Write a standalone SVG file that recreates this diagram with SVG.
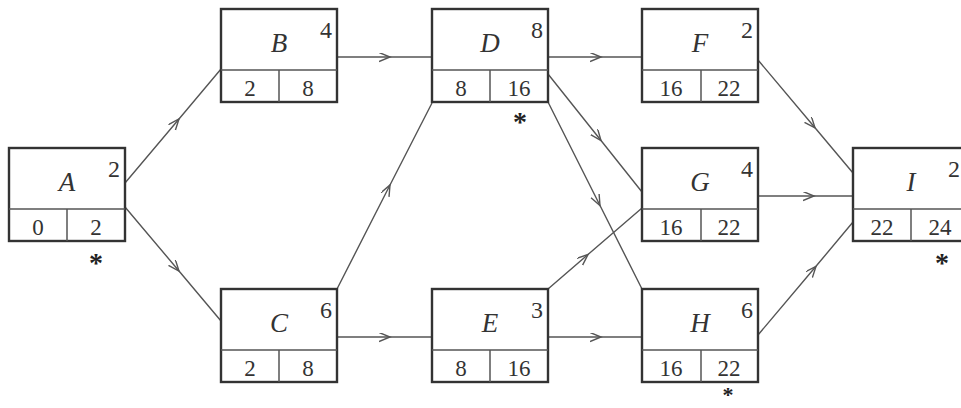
<svg xmlns="http://www.w3.org/2000/svg" width="961" height="408" viewBox="0 0 961 408">
<style>
.box{fill:#fff;stroke:#333;stroke-width:2.4}
.div{stroke:#555;stroke-width:1.5;fill:none}
.lt{font-family:"Liberation Serif","Times New Roman",serif;font-style:italic;font-size:27px;fill:#333;text-anchor:middle}
.du{font-family:"Liberation Serif","Times New Roman",serif;font-size:24px;fill:#333;text-anchor:end}
.nm{font-family:"Liberation Serif","Times New Roman",serif;font-size:23px;fill:#333;text-anchor:middle}
.st{font-family:"Liberation Serif","Times New Roman",serif;font-weight:bold;font-size:28px;fill:#222;text-anchor:middle}
.cn{fill:none;stroke:#555;stroke-width:1.4;marker-mid:url(#ah)}
</style>
<defs>
<marker id="ah" markerUnits="userSpaceOnUse" markerWidth="14" markerHeight="12" refX="11" refY="4.5" orient="auto">
<path d="M0,0 L11,4.5 L0,9" fill="none" stroke="#555" stroke-width="1.4"/>
</marker>
</defs>
<rect width="961" height="408" fill="#fff"/>
<g id="connectors">
<path class="cn" d="M125,183 L179,119 L221,69"/>
<path class="cn" d="M125,207 L179,271 L221,321"/>
<path class="cn" d="M337,57 L390,57 L432,57"/>
<path class="cn" d="M337,289 L390,185 L432,103"/>
<path class="cn" d="M337,337 L390,337 L432,337"/>
<path class="cn" d="M548,57 L601,57 L642,57"/>
<path class="cn" d="M548,74 L601,140.5 L642,192"/>
<path class="cn" d="M548,102 L600,205.5 L642,289"/>
<path class="cn" d="M548,289 L588,254.5 L642,208"/>
<path class="cn" d="M548,337 L601,337 L642,337"/>
<path class="cn" d="M758,60 L815,127.8 L853,173"/>
<path class="cn" d="M758,196 L814,196 L853,196"/>
<path class="cn" d="M758,335 L816,266.3 L853,222"/>
</g>
<g id="A">
<rect class="box" x="9" y="148" width="116" height="93"/>
<path class="div" d="M9,209 H125 M67,209 V241"/>
<text class="lt" x="67" y="191">A</text><text class="du" x="120" y="177">2</text>
<text class="nm" x="38" y="235">0</text><text class="nm" x="96" y="235">2</text>
<text class="st" x="96" y="272">*</text>
</g>
<g id="B">
<rect class="box" x="221" y="9" width="116" height="93"/>
<path class="div" d="M221,70 H337 M279,70 V102"/>
<text class="lt" x="279" y="52">B</text><text class="du" x="332" y="38">4</text>
<text class="nm" x="250" y="96">2</text><text class="nm" x="308" y="96">8</text>
</g>
<g id="C">
<rect class="box" x="221" y="289" width="116" height="93"/>
<path class="div" d="M221,350 H337 M279,350 V382"/>
<text class="lt" x="279" y="332">C</text><text class="du" x="332" y="318">6</text>
<text class="nm" x="250" y="376">2</text><text class="nm" x="308" y="376">8</text>
</g>
<g id="D">
<rect class="box" x="432" y="9" width="116" height="93"/>
<path class="div" d="M432,70 H548 M490,70 V102"/>
<text class="lt" x="490" y="52">D</text><text class="du" x="543" y="38">8</text>
<text class="nm" x="461" y="96">8</text><text class="nm" x="519" y="96">16</text>
<text class="st" x="520" y="131">*</text>
</g>
<g id="E">
<rect class="box" x="432" y="289" width="116" height="93"/>
<path class="div" d="M432,350 H548 M490,350 V382"/>
<text class="lt" x="490" y="332">E</text><text class="du" x="543" y="318">3</text>
<text class="nm" x="461" y="376">8</text><text class="nm" x="519" y="376">16</text>
</g>
<g id="F">
<rect class="box" x="642" y="9" width="116" height="93"/>
<path class="div" d="M642,70 H758 M701,70 V102"/>
<text class="lt" x="700" y="52">F</text><text class="du" x="753" y="38">2</text>
<text class="nm" x="671" y="96">16</text><text class="nm" x="729" y="96">22</text>
</g>
<g id="G">
<rect class="box" x="642" y="148" width="116" height="93"/>
<path class="div" d="M642,209 H758 M701,209 V241"/>
<text class="lt" x="700" y="191">G</text><text class="du" x="753" y="177">4</text>
<text class="nm" x="671" y="235">16</text><text class="nm" x="729" y="235">22</text>
</g>
<g id="H">
<rect class="box" x="642" y="289" width="116" height="93"/>
<path class="div" d="M642,350 H758 M701,350 V382"/>
<text class="lt" x="700" y="332">H</text><text class="du" x="753" y="318">6</text>
<text class="nm" x="671" y="376">16</text><text class="nm" x="729" y="376">22</text>
<text class="st" x="728" y="402" style="font-size:22px">*</text>
</g>
<g id="I">
<rect class="box" x="853" y="148" width="116" height="93"/>
<path class="div" d="M853,209 H969 M911,209 V241"/>
<text class="lt" x="911" y="191">I</text><text class="du" x="960" y="177">2</text>
<text class="nm" x="882" y="235">22</text><text class="nm" x="940" y="235">24</text>
<text class="st" x="942" y="272">*</text>
</g>
</svg>
